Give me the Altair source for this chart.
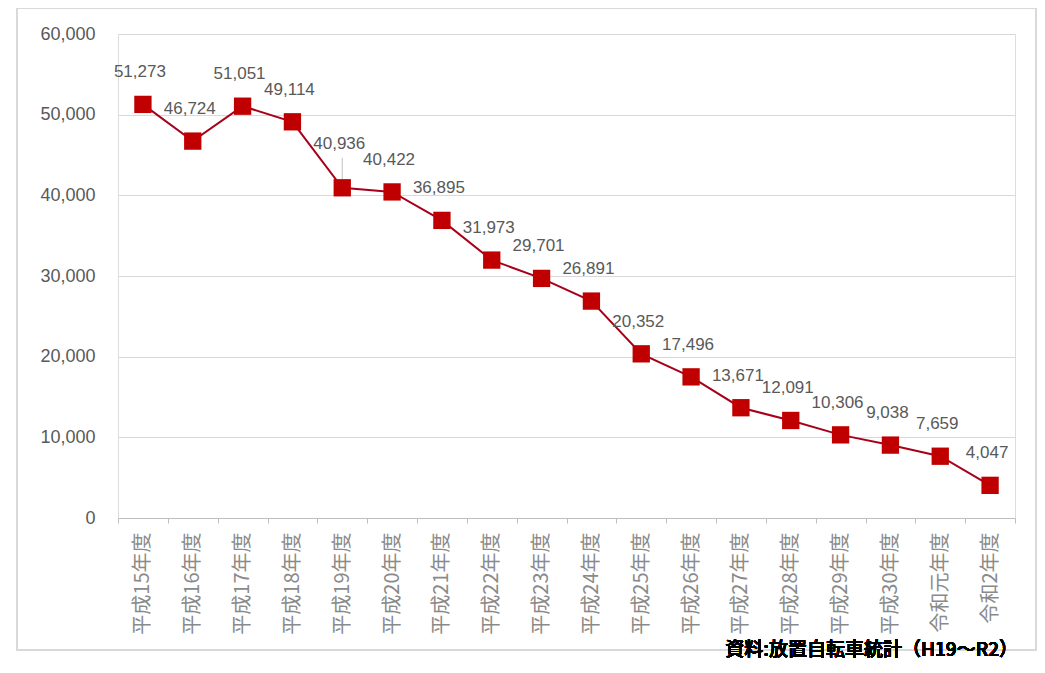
import altair as alt
import pandas as pd

years = ["平成15年度", "平成16年度", "平成17年度", "平成18年度", "平成19年度", "平成20年度",
         "平成21年度", "平成22年度", "平成23年度", "平成24年度", "平成25年度", "平成26年度",
         "平成27年度", "平成28年度", "平成29年度", "平成30年度", "令和元年度", "令和2年度"]
counts = [51273, 46724, 51051, 49114, 40936, 40422, 36895, 31973, 29701, 26891,
          20352, 17496, 13671, 12091, 10306, 9038, 7659, 4047]
y_ticks = [0, 10000, 20000, 30000, 40000, 50000, 60000]
source_note = "資料:放置自転車統計（H19〜R2）"
leader_year = "平成19年度"

df = pd.DataFrame({"year": years, "count": counts})
df["label"] = df["count"].map(lambda v: f"{v:,}")

FONT = "Noto Sans CJK JP"
W, H = 897, 484

x = alt.X("year:N", sort=years, title=None,
          scale=alt.Scale(paddingInner=0, paddingOuter=0),
          axis=alt.Axis(labelAngle=-90, labelAlign="right", labelBaseline="middle",
                        labelFontSize=20, labelColor="#8a8a8a", labelFont=FONT,
                        labelFontWeight="normal",
                        labelPadding=9, tickBand="extent", tickSize=5,
                        tickColor="#bfbfbf", domainColor="#bfbfbf", grid=False))
y = alt.Y("count:Q", title=None,
          scale=alt.Scale(domain=[0, 60000], nice=False),
          axis=alt.Axis(values=y_ticks, format=",.0f", labelFontSize=18, labelColor="#595959",
                        labelFont="Liberation Sans", labelPadding=23, domain=False,
                        ticks=False, grid=True, gridColor="#d9d9d9", gridWidth=1.2))

base = alt.Chart(df)

line = base.mark_line(color="#a8001a", strokeWidth=2).encode(x=x, y=y)
pts = base.mark_square(color="#c00000", size=300, opacity=1).encode(x=x, y=y)

labels = base.transform_filter(alt.datum.year != leader_year).mark_text(
    fontSize=17, color="#595959", font="Liberation Sans", dx=-3, dy=-32
).encode(x=x, y=y, text="label:N")

label_leader = base.transform_filter(alt.datum.year == leader_year).mark_text(
    fontSize=17, color="#595959", font="Liberation Sans", dx=-3, dy=-44
).encode(x=x, y=y, text="label:N")

leader = base.transform_filter(alt.datum.year == leader_year).mark_tick(
    orient="vertical", size=22, thickness=1, color="#a6a6a6", yOffset=-19
).encode(x=x, y=y)

border = alt.Chart(df).mark_rect(filled=False, stroke="#d9d9d9", strokeWidth=1.5).encode(
    x=alt.value(-101), x2=alt.value(918), y=alt.value(-26), y2=alt.value(616))

note = alt.Chart(df).mark_text(
    text=source_note, align="right", baseline="middle", fontSize=19, color="#000000",
    font=FONT, fontWeight=500
).encode(x=alt.value(900), y=alt.value(616))

chart = alt.layer(border, line, leader, pts, labels, label_leader, note).properties(
    width=W, height=H,
    autosize=alt.AutoSizeParams(type="none"),
    padding={"left": 110, "top": 26, "right": 22, "bottom": 145},
).configure_view(stroke=None).configure(background="white")

chart.save("out.html", embed_options={"renderer": "svg", "actions": False})
